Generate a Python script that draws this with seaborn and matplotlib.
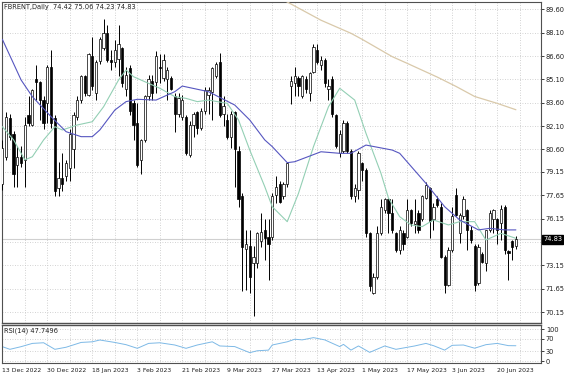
import numpy as np
import pandas as pd
import matplotlib
matplotlib.use('Agg')
import matplotlib.pyplot as plt
import seaborn as sns

# ---- data (daily bars, 13 Dec 2022 .. 27 Jun 2023) ----
opens = [78.4, 80.1, 82.6, 81.6, 79.6, 80.1, 79.9, 82.8, 82.2, 85.1,
         84.9, 83.8, 83.6, 85.9, 82.6, 78.1, 78.75, 78.9, 79.4, 80.6,
         82.7, 83.8, 85.3, 84.1, 86.6, 84.2, 86.3, 87.1, 88.1, 86.35,
         86.2, 86.4, 87.1, 84.5, 85.8, 83.6, 82.3, 79.9, 81.2, 84.0,
         85.0, 84.9, 85.9, 85.2, 85.1, 85.2, 84.0, 82.9, 82.7, 82.7,
         80.25, 82.2, 83.0, 82.0, 83.1, 84.1, 84.3, 85.3, 86.2, 82.9,
         82.5, 81.4, 83.0, 80.5, 77.6, 74.2, 74.4, 73.3, 73.3, 74.7,
         75.4, 75.0, 75.0, 77.7, 78.4, 77.6, 78.4, 84.7, 84.85, 85.2,
         84.0, 85.1, 84.2, 85.6, 87.0, 86.0, 86.35, 84.5, 85.1, 82.8,
         80.4, 80.5, 82.3, 80.5, 77.6, 78.0, 79.7, 79.3, 75.2, 71.4,
         72.4, 75.2, 76.7, 77.4, 76.5, 75.2, 74.15, 75.2, 75.0, 76.7,
         75.8, 76.5, 76.1, 77.5, 78.1, 76.1, 77.4, 76.9, 73.7, 71.9,
         74.15, 77.7, 75.2, 76.3, 76.7, 75.4, 74.4, 72.0, 73.9, 73.3,
         75.4, 76.1, 76.1, 75.9, 76.9, 74.05, 74.7, 74.42]
highs = [81.2, 83.0, 82.9, 81.8, 80.8, 80.8, 82.7, 84.0, 84.5, 86.0,
         85.0, 84.0, 86.0, 87.0, 82.8, 79.8, 80.4, 79.9, 81.9, 83.0,
         84.0, 85.4, 85.4, 86.8, 87.85, 86.35, 87.85, 89.0, 88.6, 87.0,
         87.6, 88.6, 87.2, 85.9, 86.0, 83.8, 83.6, 81.3, 84.1, 85.4,
         85.4, 86.9, 86.7, 86.7, 85.9, 85.3, 84.2, 84.2, 84.1, 82.8,
         82.4, 83.0, 83.1, 83.25, 84.6, 84.6, 85.9, 86.2, 86.8, 84.0,
         82.9, 83.1, 83.1, 80.8, 77.8, 75.4, 75.4, 74.4, 75.3, 76.5,
         76.1, 76.1, 77.8, 78.9, 78.6, 78.5, 79.8, 85.3, 85.9, 85.3,
         85.4, 85.3, 85.6, 87.4, 87.4, 86.6, 86.45, 85.1, 85.3, 82.9,
         81.85, 82.5, 82.4, 80.6, 78.4, 80.5, 79.8, 79.4, 75.3, 72.65,
         75.65, 77.4, 77.5, 77.5, 77.4, 75.3, 75.65, 75.4, 77.4, 76.8,
         77.4, 76.7, 77.7, 78.5, 78.2, 77.15, 77.6, 77.15, 73.8, 74.3,
         76.9, 78.1, 76.5, 77.6, 76.8, 75.65, 74.5, 74.5, 74.0, 75.4,
         76.7, 76.8, 76.2, 77.0, 77.0, 74.15, 74.8, 75.06]
lows = [78.0, 79.9, 81.2, 78.2, 78.2, 79.5, 78.2, 82.1, 82.1, 83.8,
        82.5, 81.9, 82.3, 82.0, 77.6, 77.6, 77.9, 78.6, 78.6, 79.4,
        82.5, 83.6, 84.0, 84.0, 84.4, 83.8, 86.1, 87.0, 86.2, 85.7,
        85.9, 85.3, 84.6, 84.0, 82.8, 81.2, 79.5, 79.0, 81.1, 83.8,
        83.8, 84.2, 84.85, 85.0, 83.8, 84.4, 81.75, 82.7, 82.5, 80.25,
        80.1, 81.4, 81.6, 81.85, 82.9, 82.9, 82.5, 85.2, 82.7, 82.1,
        81.3, 80.7, 78.2, 76.9, 71.5, 71.6, 71.4, 69.9, 73.0, 74.3,
        73.5, 72.2, 74.8, 77.15, 77.15, 77.4, 78.2, 83.5, 84.0, 84.0,
        83.9, 84.2, 83.7, 85.5, 86.1, 85.7, 84.6, 83.8, 82.7, 80.7,
        80.1, 80.4, 80.4, 77.4, 77.25, 77.4, 78.6, 75.0, 71.5, 71.3,
        72.3, 75.1, 76.5, 75.2, 75.2, 74.0, 73.9, 74.15, 74.9, 75.65,
        75.2, 75.2, 76.0, 77.4, 74.9, 75.4, 76.9, 73.6, 71.4, 71.8,
        74.0, 76.3, 74.6, 76.1, 74.15, 74.6, 71.5, 71.9, 73.3, 72.8,
        75.3, 75.2, 74.5, 74.8, 73.9, 72.2, 73.5, 74.23]
closes = [80.7, 82.7, 81.4, 79.0, 80.1, 79.7, 82.2, 82.3, 84.4, 84.9,
          83.8, 82.3, 85.9, 82.3, 77.9, 78.75, 78.4, 79.7, 81.6, 82.8,
          83.8, 85.3, 84.2, 86.7, 84.7, 86.2, 87.7, 88.1, 86.35, 86.2,
          87.0, 87.4, 84.85, 85.4, 83.1, 82.2, 79.6, 81.2, 84.0, 85.1,
          84.2, 86.6, 85.8, 86.35, 85.7, 84.5, 82.9, 83.9, 83.8, 80.4,
          82.2, 82.9, 82.0, 83.1, 84.4, 84.4, 85.8, 86.1, 82.8, 83.4,
          81.4, 82.9, 80.6, 77.4, 74.3, 74.5, 72.4, 73.7, 75.2, 75.3,
          74.9, 74.5, 77.6, 78.2, 77.25, 78.4, 79.7, 85.0, 85.3, 84.7,
          85.3, 84.5, 85.5, 87.2, 86.2, 86.35, 84.85, 84.7, 82.9, 80.8,
          81.6, 82.3, 80.5, 77.6, 78.1, 80.4, 79.3, 75.2, 71.8, 72.4,
          75.2, 76.9, 77.4, 76.5, 75.4, 74.15, 75.4, 74.5, 76.7, 75.9,
          76.0, 75.4, 77.6, 78.3, 76.0, 76.9, 77.0, 73.7, 71.9, 74.15,
          76.3, 76.4, 76.4, 77.4, 75.4, 74.8, 71.9, 74.3, 73.4, 75.4,
          76.5, 76.7, 75.4, 76.8, 74.15, 73.95, 74.35, 74.83]

# moving averages (bar index, value)
fast_ma_idx = [0, 3, 6, 8, 11, 14, 16, 20, 24, 27, 31, 33, 35, 38, 42, 46, 49, 52,
               55, 60, 63, 66, 70, 72, 76, 79, 83, 87, 90, 94, 97, 101, 103, 106,
               109, 112, 115, 119, 122, 126, 129, 133, 137]
fast_ma = [82.06, 81.21, 79.93, 80.13, 81.21, 82.06, 81.85, 82.17, 82.38, 83.34,
           85.06, 85.70, 85.27, 84.95, 84.53, 83.99, 83.88, 83.67, 83.77, 83.56,
           82.49, 80.56, 78.21, 76.92, 75.96, 77.78, 80.78, 83.34, 84.53, 83.77,
           81.64, 79.07, 77.48, 76.28, 75.75, 75.64, 76.07, 75.75, 75.96, 75.96,
           74.78, 75.21, 74.89]
mid_ma_idx = [0, 5, 8, 13, 17, 21, 24, 26, 30, 33, 36, 41, 46, 48, 55, 62, 66, 70,
              72, 76, 78, 85, 90, 93, 97, 104, 106, 113, 118, 122, 127, 130, 134, 137]
mid_ma = [87.67, 85.06, 83.99, 82.70, 81.74, 81.42, 81.42, 81.85, 83.13, 83.67,
          83.82, 83.77, 84.31, 84.67, 84.31, 83.45, 82.49, 81.21, 80.78, 79.75,
          79.81, 80.45, 80.35, 80.35, 80.88, 80.56, 80.35, 78.42, 76.92, 76.07,
          75.43, 75.53, 75.43, 75.43]
slow_ma_idx = [75, 85, 93, 96, 104, 108, 116, 121, 126, 132, 137]
slow_ma = [90.2, 88.9, 88.06, 87.67, 86.56, 86.13, 85.25, 84.65, 84.0, 83.56, 83.15]

rsi_idx = [0, 2, 5, 8, 11, 14, 17, 21, 24, 26, 30, 33, 36, 39, 42, 46, 49, 52, 56,
           58, 62, 66, 68, 71, 72, 76, 78, 80, 83, 86, 90, 91, 93, 95, 98, 102, 105,
           110, 113, 115, 118, 120, 123, 126, 129, 132, 135, 137]
rsi = [44.8, 36.5, 44.8, 55, 57, 36.5, 43, 58, 60, 65.6, 58, 51, 39.6, 55, 57, 50,
       39.6, 50, 60, 47, 45, 26, 32, 34, 50, 60, 68, 66, 73, 66, 45, 52, 34, 47, 27,
       47, 36.5, 47, 55, 48, 34, 49, 50, 40, 51, 55, 48, 47.7]

date_labels = ["13 Dec 2022", "30 Dec 2022", "18 Jan 2023", "3 Feb 2023", "21 Feb 2023",
               "9 Mar 2023", "27 Mar 2023", "13 Apr 2023", "1 May 2023", "17 May 2023",
               "3 Jun 2023", "20 Jun 2023"]
date_pos = [0, 12, 24, 36, 48, 60, 72, 84, 96, 108, 120, 132]
price_ticks = [89.60, 88.10, 86.60, 85.10, 83.60, 82.10, 80.60, 79.15, 77.65, 76.15,
               74.65, 73.15, 71.65, 70.15]
price_labels = ["89.60", "88.10", "86.60", "85.10", "83.60", "82.10", "80.60", "79.15",
                "77.65", "76.15", "", "73.15", "71.65", "70.15"]
last_price = 74.83

sns.set_style("white")
plt.rcParams['font.family'] = ['DejaVu Sans']

fig = plt.figure(figsize=(5.64, 3.76), dpi=100)
ax1 = fig.add_axes([2/564, 1-323/376, 539/564, 321/376])
ax2 = fig.add_axes([2/564, 1-363/376, 539/564, 38/376])

grid_kw = dict(color='#c4c4c4', ls=(0, (1, 2)), lw=0.6)
fs = 4.8

# candles
x = np.arange(len(closes))
o = np.array(opens)
c = np.array(closes)
bull = c >= o
ax1.vlines(x, lows, highs, color='black', lw=0.7, zorder=3)
ax1.bar(x, np.maximum(np.abs(c - o), 0.06), bottom=np.minimum(o, c), width=0.6,
        color=np.where(bull, 'white', 'black'), edgecolor='black', linewidth=0.5, zorder=4)

sns.lineplot(x=slow_ma_idx, y=slow_ma, ax=ax1, color='#d9c9aa', lw=0.9, zorder=5)
sns.lineplot(x=fast_ma_idx, y=fast_ma, ax=ax1, color='#93cfb4', lw=0.8, zorder=5)
sns.lineplot(x=mid_ma_idx, y=mid_ma, ax=ax1, color='#5656c0', lw=0.8, zorder=5)
ax1.axhline(last_price, color='#d0d0d0', lw=0.8, zorder=1)

ax1.set_xlim(-0.1, 143.7)
ax1.set_ylim(69.45, 90.07)
ax1.set_xticks(range(0, 144, 6))
ax1.set_xticklabels([])
ax1.yaxis.tick_right()
ax1.set_yticks(price_ticks)
ax1.set_yticklabels(price_labels)
ax1.tick_params(axis='y', labelsize=fs, length=2, pad=1.5, colors='#202020', width=0.6)
ax1.tick_params(axis='x', length=0)
ax1.grid(True, **grid_kw)
ax1.set_axisbelow(True)
ax1.text(0.004, 0.993, "FBRENT,Daily  74.42 75.06 74.23 74.83", transform=ax1.transAxes,
         ha='left', va='top', fontsize=fs, color='#202020')
ax1.text(1.004, last_price, f"{last_price:.2f}", transform=ax1.get_yaxis_transform(),
         ha='left', va='center', fontsize=fs, color='white',
         bbox=dict(boxstyle='square,pad=0.2', fc='black', ec='black'))

# RSI panel
sns.lineplot(x=rsi_idx, y=rsi, ax=ax2, color='#7db9e6', lw=0.7)
ax2.set_xlim(-0.1, 143.7)
ax2.set_ylim(-6.25, 112.5)
ax2.set_xticks(date_pos)
ax2.set_xticklabels(date_labels)
for lbl in ax2.get_xticklabels():
    lbl.set_ha('left')
    lbl.set_fontsize(4.4)
ax2.set_xticks(range(6, 144, 12), minor=True)
ax2.yaxis.tick_right()
ax2.set_yticks([100, 70, 30, 0])
ax2.set_yticklabels(["100", "70", "30", "0"])
ax2.tick_params(axis='y', labelsize=fs, length=2, pad=1.5, colors='#202020', width=0.6)
ax2.tick_params(axis='x', length=2, pad=1.5, colors='#202020', width=0.6)
ax2.tick_params(axis='x', which='minor', length=0)
ax2.grid(True, which='both', **grid_kw)
ax2.set_axisbelow(True)
ax2.set_xlabel("")
ax2.set_ylabel("")
ax1.set_xlabel("")
ax1.set_ylabel("")
ax2.text(0.004, 0.93, "RSI(14) 47.7496", transform=ax2.transAxes, ha='left', va='top',
         fontsize=fs, color='#202020')

for ax in (ax1, ax2):
    for s in ax.spines.values():
        s.set_color('#505050')
        s.set_linewidth(0.8)
ax1.spines['bottom'].set_linewidth(1.0)
ax2.spines['top'].set_linewidth(1.0)

fig.savefig("out.png", dpi=100)
plt.close(fig)
